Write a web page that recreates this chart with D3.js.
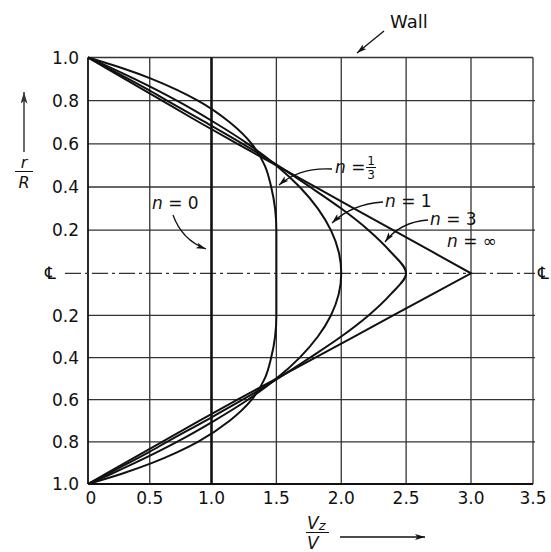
<!DOCTYPE html>
<html>
<head>
<meta charset="utf-8">
<script src="https://cdn.jsdelivr.net/npm/d3@7"></script>
<style>
  html, body { margin: 0; padding: 0; background: #fff; }
  svg { display: block; }
  text { font-family: "DejaVu Sans", "Liberation Sans", sans-serif; fill: #111; }
</style>
</head>
<body>
<svg id="chart" width="551" height="552"></svg>
<script>
// ---- data ----
const radius   = [0, 0.1, 0.2, 0.3, 0.4, 0.5, 0.6, 0.7, 0.8, 0.85, 0.9, 0.95, 1.0];
const vNThird  = [1.50, 1.50, 1.50, 1.49, 1.46, 1.41, 1.31, 1.14, 0.89, 0.72, 0.52, 0.28, 0];
const vNOne    = [2.00, 1.98, 1.92, 1.82, 1.68, 1.50, 1.28, 1.02, 0.72, 0.555, 0.38, 0.195, 0];
const vNThree  = [2.50, 2.38, 2.21, 2.00, 1.76, 1.51, 1.24, 0.95, 0.64, 0.49, 0.33, 0.165, 0];
const vNInf    = [3.00, 2.70, 2.40, 2.10, 1.80, 1.50, 1.20, 0.90, 0.60, 0.45, 0.30, 0.15, 0];
const vNZero   = 1.0;
const xTicks   = [0, 0.5, 1.0, 1.5, 2.0, 2.5, 3.0, 3.5];
const xTickLabels = ["0", "0.5", "1.0", "1.5", "2.0", "2.5", "3.0", "3.5"];
const yTicks   = [1.0, 0.8, 0.6, 0.4, 0.2, -0.2, -0.4, -0.6, -0.8, -1.0];
const yTickLabels = ["1.0", "0.8", "0.6", "0.4", "0.2", "0.2", "0.4", "0.6", "0.8", "1.0"];
const centerSymbol = "\u2104";

// ---- layout ----
const svg = d3.select("#chart");
const x = d3.scaleLinear().domain([0, 1, 3, 3.5]).range([88, 211.5, 471, 533]);
const y = d3.scaleLinear().domain([1, 0, -1]).range([57.5, 273.3, 484]);

const defs = svg.append("defs");
defs.append("marker")
  .attr("id", "arr")
  .attr("viewBox", "0 0 10 6")
  .attr("refX", 10).attr("refY", 3)
  .attr("markerWidth", 10).attr("markerHeight", 6)
  .attr("markerUnits", "userSpaceOnUse")
  .attr("orient", "auto")
  .append("path").attr("d", "M0,0 L10,3 L0,6 L2.5,3 Z").attr("fill", "#111");
defs.append("marker")
  .attr("id", "arrGray")
  .attr("viewBox", "0 0 10 6")
  .attr("refX", 10).attr("refY", 3)
  .attr("markerWidth", 12).attr("markerHeight", 7)
  .attr("markerUnits", "userSpaceOnUse")
  .attr("orient", "auto")
  .append("path").attr("d", "M0,0 L10,3 L0,6 L2.5,3 Z").attr("fill", "#333");

const grid = svg.append("g").attr("stroke", "#333").attr("stroke-width", 1.3);
// vertical grid
grid.selectAll("line.v").data(xTicks.filter(d => d !== 0 && d !== 1.0)).join("line")
  .attr("class", "v")
  .attr("x1", d => x(d)).attr("x2", d => x(d))
  .attr("y1", y(1)).attr("y2", y(-1));
// horizontal grid
grid.selectAll("line.h").data(yTicks.filter(d => d !== -1 && d !== 1)).join("line")
  .attr("class", "h")
  .attr("x1", x(0)).attr("x2", x(3.5) + 2)
  .attr("y1", d => y(d)).attr("y2", d => y(d));
// top line
grid.append("line").attr("x1", x(0)).attr("x2", x(3.5)).attr("y1", y(1)).attr("y2", y(1));
// frame: left and bottom axes
svg.append("line").attr("stroke", "#111").attr("stroke-width", 1.8)
  .attr("x1", x(0)).attr("x2", x(0)).attr("y1", y(1)).attr("y2", y(-1));
svg.append("line").attr("stroke", "#111").attr("stroke-width", 1.8)
  .attr("x1", x(0)).attr("x2", x(3.5)).attr("y1", y(-1)).attr("y2", y(-1));
// centerline dash-dot
svg.append("line").attr("stroke", "#333").attr("stroke-width", 1.3)
  .attr("stroke-dasharray", "16 4 3 4")
  .attr("x1", 65).attr("x2", x(3.5) + 2).attr("y1", y(0)).attr("y2", y(0));

// tick labels
svg.append("g").selectAll("text").data(yTicks).join("text")
  .attr("x", 79).attr("y", d => y(d))
  .attr("dy", "0.36em")
  .attr("text-anchor", "end")
  .attr("font-size", 17)
  .text((d, i) => yTickLabels[i]);
svg.append("text").attr("x", 45).attr("y", y(0)).attr("dy", "0.36em")
  .attr("font-size", 17).text(centerSymbol);
svg.append("text").attr("x", 538).attr("y", y(0)).attr("dy", "0.36em")
  .attr("font-size", 17).text(centerSymbol);
svg.append("g").selectAll("text").data(xTicks).join("text")
  .attr("x", (d, i) => x(d) + (i === 0 ? 3 : 0)).attr("y", 504)
  .attr("text-anchor", "middle")
  .attr("font-size", 17)
  .text((d, i) => xTickLabels[i]);

// ---- profiles ----
function fullProfile(vals) {
  const pts = [];
  for (let i = radius.length - 1; i >= 0; i--) pts.push([vals[i], radius[i]]);
  for (let i = 1; i < radius.length; i++) pts.push([vals[i], -radius[i]]);
  return pts;
}
const smooth = d3.line().x(d => x(d[0])).y(d => y(d[1])).curve(d3.curveMonotoneY);
const straight = d3.line().x(d => x(d[0])).y(d => y(d[1]));
const curves = svg.append("g").attr("fill", "none").attr("stroke", "#111").attr("stroke-width", 2);
[vNThird, vNOne, vNThree].forEach(v => curves.append("path").attr("d", smooth(fullProfile(v))));
curves.append("path").attr("d", straight(fullProfile(vNInf)));
curves.append("path").attr("stroke-width", 2.6)
  .attr("d", straight([[vNZero, 1], [vNZero, -1]]));

// ---- annotations ----
function nLabel(xp, yp, rest) {
  const t = svg.append("text").attr("x", xp).attr("y", yp).attr("font-size", 17);
  t.append("tspan").attr("font-style", "italic").text("n");
  t.append("tspan").text(rest);
  return t;
}
nLabel(152, 209, " = 0");
nLabel(385, 207, " = 1");
nLabel(430, 225, " = 3");
nLabel(447, 247, " = \u221E");
// n = 1/3 with stacked fraction
nLabel(335, 173, " =");
svg.append("text").attr("x", 371).attr("y", 165).attr("font-size", 12)
  .attr("text-anchor", "middle").text("1");
svg.append("line").attr("x1", 366).attr("x2", 376).attr("y1", 167.5).attr("y2", 167.5)
  .attr("stroke", "#111").attr("stroke-width", 1);
svg.append("text").attr("x", 371).attr("y", 179).attr("font-size", 12)
  .attr("text-anchor", "middle").text("3");

const leaders = svg.append("g").attr("fill", "none").attr("stroke", "#111").attr("stroke-width", 1.3);
leaders.append("path").attr("d", "M332,169 Q300,167 279,185").attr("marker-end", "url(#arr)");
leaders.append("path").attr("d", "M383,202 Q352,204 332,223").attr("marker-end", "url(#arr)");
leaders.append("path").attr("d", "M428,220 Q400,222 385,242").attr("marker-end", "url(#arr)");
leaders.append("path").attr("d", "M173,215 Q182,240 206,249").attr("marker-end", "url(#arr)");
leaders.append("path").attr("d", "M384,31 L357,53").attr("marker-end", "url(#arr)");

// Wall
svg.append("text").attr("x", 390).attr("y", 28).attr("font-size", 18).text("Wall");

// y title r/R with arrow
svg.append("text").attr("x", 24).attr("y", 168).attr("font-size", 16)
  .attr("font-style", "italic").attr("text-anchor", "middle").text("r");
svg.append("line").attr("x1", 15).attr("x2", 33).attr("y1", 171.5).attr("y2", 171.5)
  .attr("stroke", "#111").attr("stroke-width", 1);
svg.append("text").attr("x", 24).attr("y", 188).attr("font-size", 16)
  .attr("font-style", "italic").attr("text-anchor", "middle").text("R");
svg.append("line").attr("x1", 24).attr("x2", 24).attr("y1", 152).attr("y2", 92)
  .attr("stroke", "#444").attr("stroke-width", 1.6).attr("marker-end", "url(#arrGray)");

// x title Vz/V with arrow
const vz = svg.append("text").attr("x", 307).attr("y", 529).attr("font-size", 17).attr("font-style", "italic");
vz.append("tspan").text("V");
vz.append("tspan").attr("font-size", 13).attr("dy", 1).text("z");
svg.append("line").attr("x1", 306).attr("x2", 329).attr("y1", 532.5).attr("y2", 532.5)
  .attr("stroke", "#111").attr("stroke-width", 1);
svg.append("text").attr("x", 307).attr("y", 549).attr("font-size", 17)
  .attr("font-style", "italic").text("V");
svg.append("line").attr("x1", 340).attr("x2", 425).attr("y1", 537).attr("y2", 537)
  .attr("stroke", "#111").attr("stroke-width", 1.3).attr("marker-end", "url(#arr)");
</script>
</body>
</html>
